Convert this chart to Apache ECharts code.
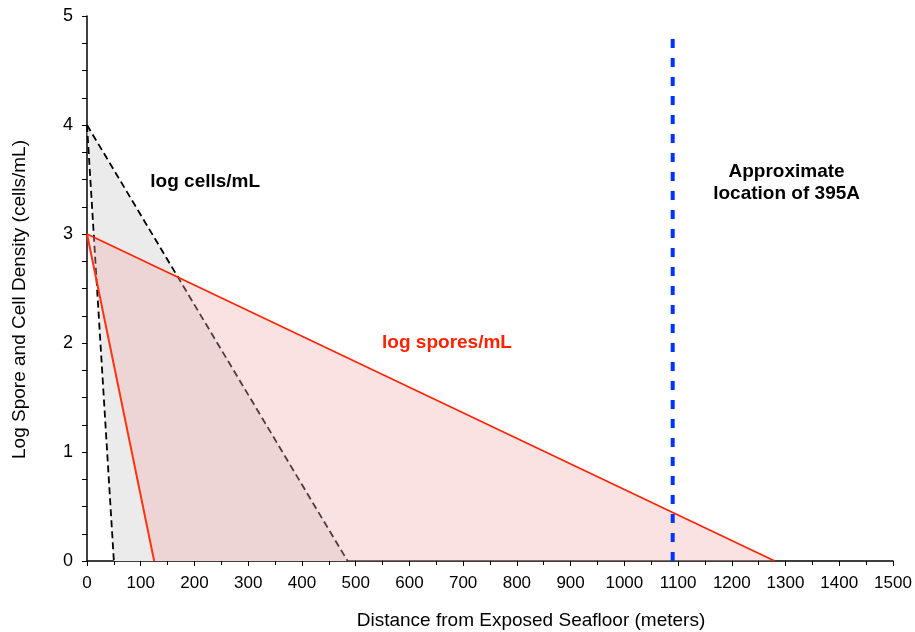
<!DOCTYPE html>
<html>
<head>
<meta charset="utf-8">
<script src="https://cdn.jsdelivr.net/npm/echarts@6/dist/echarts.min.js"></script>
<style>
  html, body { margin: 0; padding: 0; background: #fff; }
  #chart { width: 915px; height: 632px; }
</style>
</head>
<body>
<div id="chart"></div>
<script>
  // triangles (distance in m, log density)
  var cellsPoly = [[0, 4], [50, 0], [485, 0]];
  var sporesPoly = [[0, 3], [125, 0], [1280, 0]];
  // edges
  var cellsSteep = [[0, 4], [50, 0]];
  var cellsShallow = [[0, 4], [485, 0]];
  var sporesSteep = [[0, 3], [125, 0]];
  var sporesShallow = [[0, 3], [1280, 0]];
  // 395A location
  var site395A = [[1090, 0], [1090, 4.8]];
  // text labels [x, y, text, colour]
  var notes = [
    [220, 3.48, 'log cells/mL', '#000'],
    [670, 2.0, 'log spores/mL', '#ff2200'],
    [1302, 3.47, 'Approximate\nlocation of 395A', '#000']
  ];

  var font = '"Liberation Sans", Arial, sans-serif';
  var chart = echarts.init(document.getElementById('chart'));

  function polySeries(pts, fill, z) {
    return {
      type: 'custom',
      z: z,
      silent: true,
      data: pts,
      renderItem: function (params, api) {
        if (params.dataIndex !== 0) return null;
        return {
          type: 'polygon',
          shape: { points: pts.map(function (p) { return api.coord(p); }) },
          style: { fill: fill, stroke: 'none' }
        };
      }
    };
  }

  function edge(pts, color, width, dash, z) {
    return {
      type: 'line',
      z: z,
      data: pts,
      symbol: 'none',
      silent: true,
      lineStyle: { color: color, width: width, type: dash }
    };
  }

  chart.setOption({
    animation: false,
    grid: { left: 87, right: 22, top: 16, bottom: 71, containLabel: false, outerBoundsMode: 'none' },
    xAxis: {
      type: 'value',
      min: 0, max: 1500, interval: 100,
      name: 'Distance from Exposed Seafloor (meters)',
      nameLocation: 'middle',
      nameGap: 50,
      nameTextStyle: { color: '#000', fontSize: 19, fontFamily: font, padding: [0, 0, 0, 82] },
      axisLine: { lineStyle: { color: '#000', width: 1.5 } },
      axisTick: { length: 5, lineStyle: { color: '#000' } },
      minorTick: { show: true, splitNumber: 2, length: 4, lineStyle: { color: '#000' } },
      axisLabel: { color: '#000', fontSize: 17, fontFamily: font, margin: 14,
        formatter: function (v) { return String(v); } },
      splitLine: { show: false }
    },
    yAxis: {
      type: 'value',
      min: 0, max: 5, interval: 1,
      name: 'Log Spore and Cell Density (cells/mL)',
      nameLocation: 'middle',
      nameGap: 58,
      nameTextStyle: { color: '#000', fontSize: 19, fontFamily: font, padding: [0, 22, 0, 0] },
      axisLine: { lineStyle: { color: '#000', width: 1.5 } },
      axisTick: { length: 5, lineStyle: { color: '#000' } },
      minorTick: { show: true, splitNumber: 4, length: 5, lineStyle: { color: '#000' } },
      axisLabel: { color: '#000', fontSize: 18, fontFamily: font, margin: 14 },
      splitLine: { show: false }
    },
    series: [
      polySeries(cellsPoly, '#ebebeb', 1),
      edge(cellsSteep, '#000', 1.8, [7, 4], 2),
      edge(cellsShallow, '#000', 1.8, [7, 4], 2),
      polySeries(sporesPoly, 'rgba(240,170,170,0.34)', 3),
      edge(sporesSteep, '#ff3311', 2, 'solid', 4),
      edge(sporesShallow, '#ff2200', 1.6, 'solid', 4),
      edge(site395A, '#0033ff', 4, [9, 10], 5)
    ]
  });

  chart.setOption({
    graphic: notes.map(function (n) {
      var p = chart.convertToPixel({ gridIndex: 0 }, [n[0], n[1]]);
      return {
        type: 'text',
        x: p[0], y: p[1],
        z: 10,
        style: {
          text: n[2],
          fill: n[3],
          font: 'bold 19px ' + font,
          textAlign: 'center',
          textVerticalAlign: 'middle',
          lineHeight: 22
        }
      };
    })
  });
</script>
</body>
</html>
